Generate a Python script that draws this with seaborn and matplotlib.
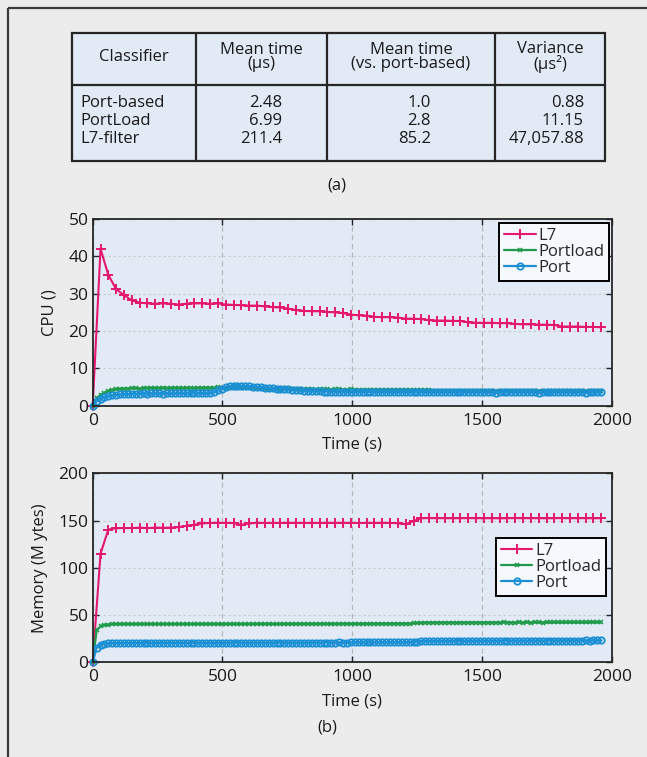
import numpy as np
import pandas as pd
import seaborn as sns
import matplotlib
matplotlib.use("Agg")
import matplotlib.pyplot as plt
from matplotlib.patches import Rectangle

# ---------------- data ----------------
table_header = ["Classifier", "Mean time\n(µs)", "Mean time\n(vs. port-based)", "Variance\n(µs²)"]
classifiers = ["Port-based", "PortLoad", "L7-filter"]
mean_time = ["2.48", "6.99", "211.4"]
mean_rel = ["1.0", "2.8", "85.2"]
variance = ["0.88", "11.15", "47,057.88"]

series_names = ["L7", "Portload", "Port"]

l7_cpu = [0.0, 42.0, 35.0, 31.2, 29.6, 28.2, 27.6, 27.4, 27.3, 27.4,
          27.3, 27.1, 27.3, 27.4, 27.4, 27.3, 27.4, 27.1, 27.0, 26.9,
          26.8, 26.8, 26.6, 26.4, 26.3, 26.0, 25.6, 25.4, 25.3, 25.3,
          25.1, 25.0, 24.8, 24.4, 24.2, 24.1, 23.8, 23.7, 23.7, 23.6,
          23.3, 23.3, 23.2, 22.9, 22.8, 22.8, 22.7, 22.7, 22.3, 22.2,
          22.2, 22.2, 22.1, 22.1, 21.9, 21.8, 21.8, 21.7, 21.7, 21.6,
          21.2, 21.2, 21.2, 21.1, 21.1, 21.0]

portload_cpu = [0.0, 2.0, 2.9, 3.5, 3.9, 4.2, 4.4, 4.5, 4.6, 4.6,
                4.7, 4.7, 4.6, 4.7, 4.7, 4.8, 4.7, 4.7, 4.8, 4.7,
                4.7, 4.8, 4.8, 4.7, 4.8, 4.8, 4.7, 4.8, 4.8, 4.8,
                4.8, 4.8, 4.9, 4.8, 4.8, 4.9, 4.8, 4.8, 4.8, 4.7,
                4.8, 4.7, 4.7, 4.7, 4.6, 4.6, 4.6, 4.5, 4.5, 4.5,
                4.5, 4.5, 4.4, 4.4, 4.4, 4.4, 4.4, 4.3, 4.4, 4.4,
                4.4, 4.3, 4.4, 4.4, 4.3, 4.3, 4.4, 4.3, 4.3, 4.3,
                4.3, 4.3, 4.3, 4.2, 4.3, 4.3, 4.2, 4.2, 4.3, 4.2,
                4.2, 4.2, 4.2, 4.1, 4.1, 4.1, 4.1, 4.0, 4.0, 4.0,
                4.0, 4.0, 4.0, 4.0, 3.9, 4.0, 4.0, 3.9, 3.9, 4.0,
                3.9, 3.9, 4.0, 3.9, 3.9, 3.9, 3.9, 3.9, 3.9, 3.9,
                3.9, 3.9, 3.9, 3.9, 3.9, 3.9, 3.8, 3.9, 3.9, 3.9,
                3.9, 3.9, 3.9, 3.8, 3.9, 3.9, 3.9, 3.9, 3.9, 3.9,
                3.9]

port_cpu = [0.0, 1.2, 1.9, 2.3, 2.6, 2.8, 2.9, 3.0, 3.1, 3.1,
            3.2, 3.2, 3.2, 3.3, 3.2, 3.3, 3.3, 3.3, 3.2, 3.3,
            3.3, 3.3, 3.4, 3.3, 3.3, 3.3, 3.4, 3.3, 3.4, 3.3,
            3.4, 3.6, 4.1, 4.6, 5.0, 5.2, 5.2, 5.3, 5.2, 5.2,
            5.2, 5.1, 5.0, 4.9, 4.8, 4.8, 4.7, 4.6, 4.6, 4.5,
            4.4, 4.3, 4.2, 4.1, 4.0, 4.0, 3.9, 3.9, 3.9, 3.8,
            3.8, 3.8, 3.8, 3.7, 3.8, 3.7, 3.7, 3.7, 3.7, 3.7,
            3.7, 3.7, 3.7, 3.7, 3.7, 3.7, 3.7, 3.6, 3.7, 3.7,
            3.7, 3.6, 3.7, 3.6, 3.7, 3.6, 3.6, 3.6, 3.6, 3.6,
            3.6, 3.6, 3.6, 3.6, 3.6, 3.6, 3.6, 3.6, 3.6, 3.6,
            3.6, 3.6, 3.6, 3.5, 3.6, 3.6, 3.6, 3.6, 3.6, 3.6,
            3.6, 3.6, 3.6, 3.6, 3.5, 3.6, 3.6, 3.6, 3.6, 3.6,
            3.6, 3.6, 3.6, 3.6, 3.6, 3.6, 3.5, 3.6, 3.6, 3.6,
            3.6]

l7_mem = [0.0, 115.0, 140.5, 142.0, 142.0, 142.1, 142.5, 142.0, 142.5, 142.4,
          142.5, 143.0, 144.5, 145.5, 147.0, 147.5, 147.6, 147.5, 147.4, 145.5,
          147.0, 147.5, 147.5, 147.4, 147.5, 147.6, 147.5, 147.5, 147.4, 147.5,
          147.5, 147.6, 147.5, 147.5, 147.4, 147.5, 147.5, 147.6, 147.5, 147.2,
          146.0, 149.5, 152.5, 152.6, 152.5, 152.5, 152.4, 152.5, 152.6, 152.5,
          152.5, 152.5, 152.4, 152.5, 152.6, 152.5, 152.5, 152.5, 152.4, 152.5,
          152.6, 152.5, 152.5, 152.5, 152.4, 152.5]

portload_mem = [0.0, 34.0, 38.0, 39.5, 40.0, 40.3, 40.3, 40.5, 40.5, 40.5,
                40.5, 40.5, 40.4, 40.5, 40.5, 40.5, 40.6, 40.5, 40.5, 40.5,
                40.5, 40.6, 40.5, 40.5, 40.5, 40.6, 40.5, 40.5, 40.6, 40.5,
                40.5, 40.6, 40.6, 40.5, 40.6, 40.6, 40.6, 40.5, 40.6, 40.6,
                40.6, 40.6, 40.7, 40.6, 40.6, 40.7, 40.6, 40.7, 40.7, 40.7,
                40.7, 40.7, 40.8, 40.7, 40.7, 40.8, 40.8, 40.7, 40.8, 40.8,
                40.8, 40.8, 40.8, 40.8, 40.9, 40.8, 40.8, 40.9, 40.8, 40.9,
                40.9, 40.9, 40.9, 40.9, 40.9, 41.0, 40.9, 40.9, 41.0, 41.0,
                41.0, 41.0, 41.3, 41.6, 41.8, 42.0, 42.0, 42.0, 42.1, 42.0,
                42.0, 42.1, 42.0, 42.0, 42.1, 42.0, 42.1, 42.1, 42.0, 42.1,
                42.1, 42.1, 42.0, 42.1, 42.1, 42.2, 42.1, 42.1, 42.1, 42.2,
                42.1, 42.2, 42.1, 42.2, 42.2, 42.1, 42.2, 42.2, 42.2, 42.2,
                42.2, 42.2, 42.3, 42.2, 42.2, 42.3, 42.2, 42.3, 42.3, 42.3,
                42.3]

port_mem = [0.0, 15.5, 18.5, 19.5, 20.0, 20.3, 20.3, 20.5, 20.5, 20.5,
            20.5, 20.5, 20.4, 20.5, 20.5, 20.5, 20.6, 20.5, 20.5, 20.5,
            20.5, 20.6, 20.5, 20.5, 20.5, 20.6, 20.5, 20.6, 20.6, 20.5,
            20.6, 20.6, 20.6, 20.5, 20.6, 20.7, 20.6, 20.6, 20.7, 20.6,
            20.7, 20.7, 20.7, 20.6, 20.7, 20.7, 20.8, 20.7, 20.7, 20.8,
            20.8, 20.8, 20.7, 20.8, 20.8, 20.8, 20.9, 20.8, 20.8, 20.9,
            20.9, 20.9, 20.9, 21.0, 20.9, 20.9, 21.0, 21.0, 21.0, 21.0,
            21.0, 21.0, 21.1, 21.0, 21.1, 21.1, 21.1, 21.1, 21.1, 21.1,
            21.1, 21.2, 21.6, 22.0, 22.3, 22.5, 22.5, 22.6, 22.5, 22.6,
            22.6, 22.6, 22.6, 22.7, 22.6, 22.7, 22.7, 22.7, 22.7, 22.7,
            22.7, 22.8, 22.7, 22.8, 22.8, 22.8, 22.8, 22.8, 22.8, 22.9,
            22.8, 22.9, 22.9, 22.9, 22.9, 22.9, 22.9, 23.0, 22.9, 23.0,
            23.0, 23.0, 23.0, 23.0, 23.0, 23.0, 23.1, 23.0, 23.1, 23.1,
            23.1]

x_ticks = [0, 500, 1000, 1500, 2000]
cpu_ticks = [0, 10, 20, 30, 40, 50]
mem_ticks = [0, 50, 100, 150, 200]

# sampling instants (end of trace ~1960 s)
t_l7 = np.linspace(0, 1960, len(l7_cpu))
t_fine = np.linspace(0, 1960, len(port_cpu))

# ---------------- style ----------------
sns.set_theme(style="ticks")
plt.rcParams["font.family"] = ["Open Sans", "DejaVu Sans"]
plt.rcParams["axes.unicode_minus"] = False

BG = "#ececec"
PANEL = "#e1eaf5"
DARK = "#262626"
TXT = "#1a1a1a"
PINK = "#e5176f"
GREEN = "#1f9a4b"
BLUE = "#1b8fd4"
FS = 12

W, H = 647, 757
fig = plt.figure(figsize=(W / 100, H / 100), dpi=100, facecolor=BG)

# overlay in pixel coordinates for the table and frame
ov = fig.add_axes([0, 0, 1, 1], zorder=0)
ov.set_xlim(0, W)
ov.set_ylim(H, 0)
ov.axis("off")
ov.patch.set_alpha(0)

ov.plot([8, W], [8, 8], color="#3a3a3a", lw=1.6, solid_capstyle="butt")
ov.plot([8, 8], [8, H], color="#3a3a3a", lw=1.6, solid_capstyle="butt")

tx0, tx1, ty0, ty1 = 72, 605, 33, 161
ov.add_patch(Rectangle((tx0, ty0), tx1 - tx0, ty1 - ty0, facecolor=PANEL,
                       edgecolor=DARK, lw=1.6))
col_edges = [tx0, 196, 327, 495, tx1]
for xe in col_edges[1:-1]:
    ov.plot([xe, xe], [ty0, ty1], color=DARK, lw=1.6)
ov.plot([tx0, tx1], [85, 85], color=DARK, lw=1.6)

for i, htxt in enumerate(table_header):
    cx = (col_edges[i] + col_edges[i + 1]) / 2
    ov.text(cx, 57, htxt, ha="center", va="center", fontsize=FS,
            color=TXT, linespacing=0.9)

row_y = [103, 121, 139]
for j in range(3):
    ov.text(80, row_y[j], classifiers[j], ha="left", va="center", fontsize=FS, color=TXT)
    ov.text(282, row_y[j], mean_time[j], ha="right", va="center", fontsize=FS, color=TXT)
    ov.text(431, row_y[j], mean_rel[j], ha="right", va="center", fontsize=FS, color=TXT)
    ov.text(584, row_y[j], variance[j], ha="right", va="center", fontsize=FS, color=TXT)

ov.text(337, 185, "(a)", ha="center", va="center", fontsize=FS, color=TXT)
ov.text(327, 727, "(b)", ha="center", va="center", fontsize=FS, color=TXT)

# ---------------- charts ----------------
def px_axes(left, top, right, bottom):
    return fig.add_axes([left / W, 1 - bottom / H, (right - left) / W, (bottom - top) / H], zorder=1)

ax1 = px_axes(92.7, 219, 611.7, 405.7)
ax2 = px_axes(92.7, 473.3, 611.7, 662.3)


def draw(ax, l7, pl, pt, yticks, ylabel, leg_anchor, ylab_x):
    ax.set_facecolor(PANEL)
    sns.lineplot(x=t_l7, y=l7, ax=ax, color=PINK, lw=1.5, marker="+", markersize=7.5,
                 markeredgewidth=1.4, markeredgecolor=PINK, markerfacecolor=PINK,
                 label=series_names[0], errorbar=None)
    sns.lineplot(x=t_fine, y=pl, ax=ax, color=GREEN, lw=1.6, marker="x", markersize=3.5,
                 markeredgewidth=1.1, markeredgecolor=GREEN, markerfacecolor=GREEN,
                 label=series_names[1], errorbar=None)
    sns.lineplot(x=t_fine, y=pt, ax=ax, color=BLUE, lw=1.6, marker="o", markersize=4.6,
                 markeredgewidth=1.3, markerfacecolor="none", markeredgecolor=BLUE,
                 label=series_names[2], errorbar=None)
    for ln in ax.lines:
        ln.set_clip_on(False)
    ax.set_xlim(0, 2000)
    ax.set_ylim(yticks[0], yticks[-1])
    ax.set_xticks(x_ticks)
    ax.set_yticks(yticks)
    ax.xaxis.grid(True, color="#b8b8b8", linestyle=(0, (4, 3)), lw=0.9)
    ax.yaxis.grid(True, color="#cdcdcd", linestyle=(0, (2, 2)), lw=0.9)
    ax.set_axisbelow(True)
    for s in ax.spines.values():
        s.set_visible(True)
        s.set_color(DARK)
        s.set_linewidth(1.3)
    ax.tick_params(direction="in", top=True, right=True, length=4, width=1.0,
                   color=DARK, labelsize=FS + 0.5, labelcolor=TXT, pad=3)
    ax.tick_params(axis="x", pad=5)
    ax.set_xlabel("Time (s)", fontsize=FS, color=TXT)
    ax.set_ylabel(ylabel, fontsize=FS, color=TXT)
    ax.xaxis.set_label_coords(0.5, -0.165)
    ax.yaxis.set_label_coords(ylab_x, 0.5)
    leg = ax.legend(loc="upper right", bbox_to_anchor=leg_anchor, borderaxespad=0,
                    frameon=True, fancybox=False, edgecolor="black", facecolor="#f5f8fc",
                    framealpha=1, fontsize=FS, handlelength=1.9, handletextpad=0.15,
                    labelspacing=0.0, borderpad=0.3)
    leg.get_frame().set_linewidth(1.4)


draw(ax1, l7_cpu, portload_cpu, port_cpu, cpu_ticks, "CPU ()", (0.995, 0.979), -0.068)
draw(ax2, l7_mem, portload_mem, port_mem, mem_ticks, "Memory (M ytes)", (0.989, 0.658), -0.087)

fig.savefig("out.png", dpi=100, facecolor=BG)
